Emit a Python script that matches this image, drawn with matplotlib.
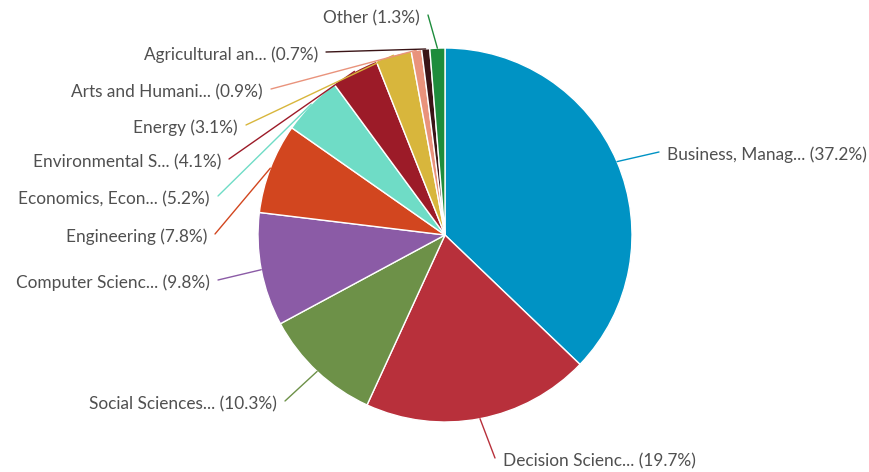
import numpy as np
import matplotlib
matplotlib.use("Agg")
import matplotlib.pyplot as plt

# Subject area shares (%), clockwise from 12 o'clock
categories = [
    "Business, Manag...", "Decision Scienc...", "Social Sciences...",
    "Computer Scienc...", "Engineering", "Economics, Econ...",
    "Environmental S...", "Energy", "Arts and Humani...",
    "Agricultural an...", "Other",
]
shares = [37.2, 19.7, 10.3, 9.8, 7.8, 5.2, 4.1, 3.1, 0.9, 0.7, 1.3]
colors = [
    "#0093c4", "#b8303b", "#6d9148", "#8b5ba6", "#d2461f", "#6fdcc6",
    "#9c1b28", "#d8b63c", "#e9937c", "#3a1416", "#1e8c3c",
]

W, H = 869, 472
CX, CY, R = 445, H - 235, 187

# label anchor (pixel x, pixel y from top, side) for each slice
label_pos = [
    (667, 155, "l"), (503, 461, "l"), (277, 404, "r"), (210, 283, "r"),
    (207, 237, "r"), (210, 199, "r"), (221, 162, "r"), (238, 128, "r"),
    (263, 92, "r"), (318, 55, "r"), (420, 18, "r"),
]

plt.rcParams["font.family"] = ["Lato", "DejaVu Sans"]

fig = plt.figure(figsize=(W / 100, H / 100), dpi=100)
ax = fig.add_axes([0, 0, 1, 1])

wedges, _ = ax.pie(
    shares, colors=colors, startangle=90, counterclock=False,
    center=(CX, CY), radius=R,
    wedgeprops=dict(edgecolor="white", linewidth=1.0),
)
ax.set_xlim(0, W)
ax.set_ylim(0, H)
ax.set_aspect("equal")
ax.axis("off")

for w, name, val, (lx, ly, side), c in zip(wedges, categories, shares, label_pos, colors):
    mid = np.deg2rad((w.theta1 + w.theta2) / 2)
    ex, ey = CX + R * np.cos(mid), CY + R * np.sin(mid)
    ty = H - ly
    if side == "l":
        tx, ha = lx - 8, "left"
    else:
        tx, ha = lx + 8, "right"
    ax.plot([ex, tx], [ey, ty + 3], color=c, lw=1.0, solid_capstyle="round")
    ax.text(lx, ty, f"{name} ({val}%)", ha=ha, va="center",
            fontsize=12.4, color="#505050")

fig.savefig("out.png", dpi=100)
